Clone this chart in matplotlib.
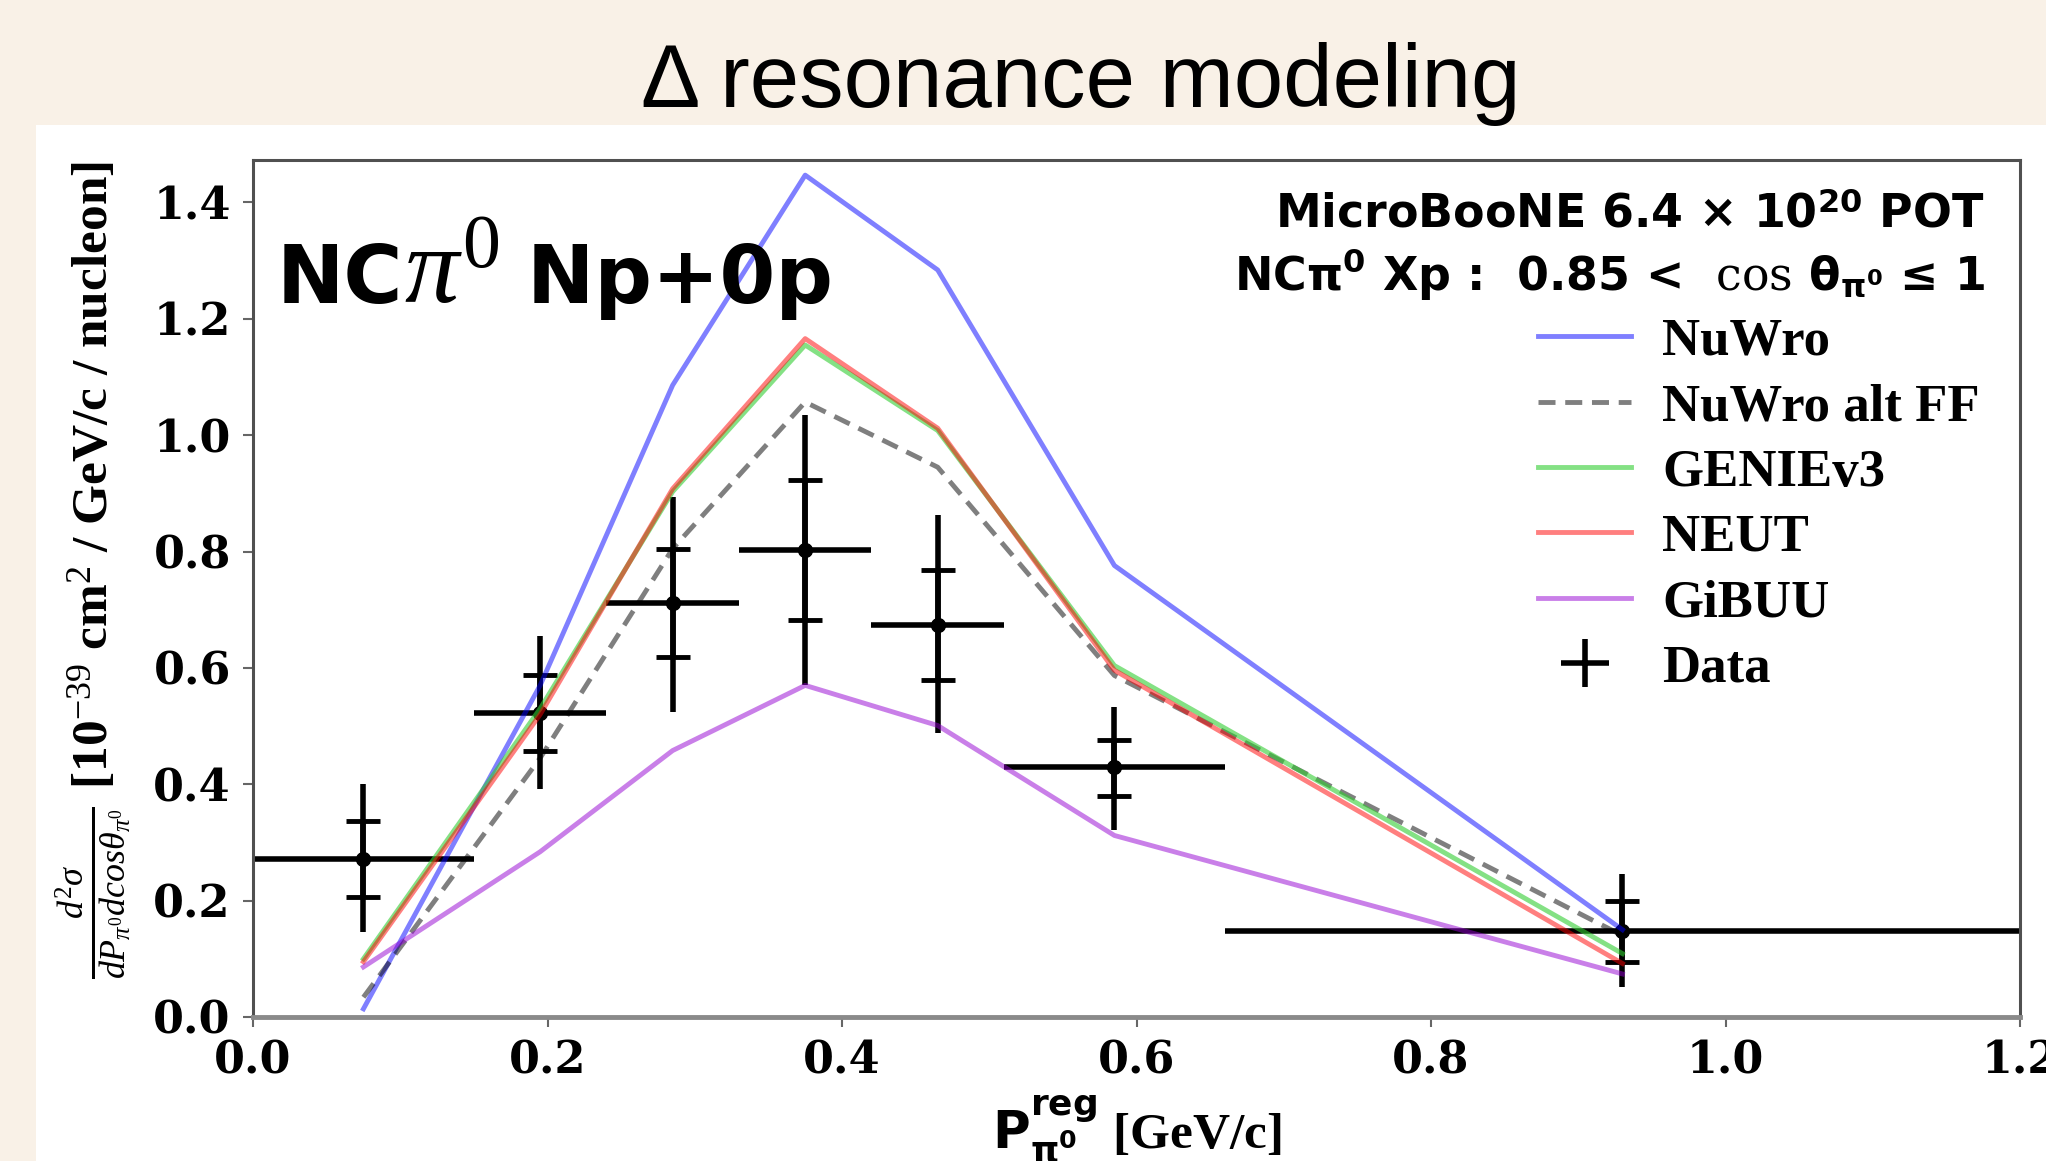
import matplotlib
matplotlib.use("Agg")
import matplotlib.pyplot as plt
from matplotlib.patches import Rectangle
from matplotlib.lines import Line2D
from matplotlib.offsetbox import TextArea, HPacker, AnchoredOffsetbox
import numpy as np

# ---------------- data ----------------
x_centers = np.array([0.075, 0.195, 0.285, 0.375, 0.465, 0.585, 0.93])
bin_lo = np.array([0.0, 0.15, 0.24, 0.33, 0.42, 0.51, 0.66])
bin_hi = np.array([0.15, 0.24, 0.33, 0.42, 0.51, 0.66, 1.2])

data_y = np.array([0.272, 0.523, 0.711, 0.802, 0.673, 0.429, 0.147])
tot_lo = np.array([0.146, 0.392, 0.524, 0.570, 0.488, 0.321, 0.051])
tot_hi = np.array([0.401, 0.654, 0.894, 1.034, 0.862, 0.532, 0.246])
stat_lo = np.array([0.207, 0.458, 0.618, 0.682, 0.579, 0.380, 0.094])
stat_hi = np.array([0.337, 0.587, 0.805, 0.923, 0.769, 0.476, 0.200])

nuwro = [0.014, 0.57, 1.086, 1.447, 1.284, 0.776, 0.150]
nuwro_alt = [0.034, 0.445, 0.805, 1.057, 0.945, 0.587, 0.140]
genie = [0.100, 0.530, 0.903, 1.155, 1.008, 0.604, 0.109]
neut = [0.095, 0.520, 0.908, 1.166, 1.012, 0.596, 0.092]
gibuu = [0.086, 0.284, 0.458, 0.570, 0.501, 0.312, 0.074]

x_ticks = [0.0, 0.2, 0.4, 0.6, 0.8, 1.0, 1.2]
y_ticks = [0.0, 0.2, 0.4, 0.6, 0.8, 1.0, 1.2, 1.4]

# ---------------- style ----------------
plt.rcParams['mathtext.fontset'] = 'custom'
plt.rcParams['mathtext.rm'] = 'Liberation Serif'
plt.rcParams['mathtext.it'] = 'Liberation Serif:italic'
plt.rcParams['mathtext.bf'] = 'DejaVu Sans:bold'
plt.rcParams['mathtext.sf'] = 'DejaVu Serif'

beige = '#f9f1e7'
W, H = 2046, 1161
fig = plt.figure(figsize=(W / 100, H / 100), dpi=100, facecolor=beige)

# white slide panel
fig.patches.append(Rectangle((36 / W, 0), 1.0, (H - 125) / H,
                             transform=fig.transFigure, facecolor='white',
                             edgecolor='none', zorder=-10))

fig.text(1081 / W, 1 - 107 / H, 'Δ resonance modeling', ha='center',
         va='baseline', fontsize=64, family='Liberation Sans')

ax = fig.add_axes([253 / W, 1 - 1017 / H, (2020 - 253) / W, (1017 - 160) / H])
ax.set_zorder(1)
ax.set_facecolor('white')

# data
ax.errorbar(x_centers, data_y,
            xerr=[x_centers - bin_lo, bin_hi - x_centers],
            yerr=[data_y - tot_lo, tot_hi - data_y],
            fmt='o', color='k', ms=10, elinewidth=4, capsize=0, zorder=2)
ax.errorbar(x_centers, data_y, yerr=[data_y - stat_lo, stat_hi - data_y],
            fmt='none', ecolor='k', elinewidth=4, capsize=12, capthick=3.5,
            zorder=2)

lw = 3.5
l1, = ax.plot(x_centers, nuwro, color='blue', alpha=0.5, lw=lw, zorder=3)
l2, = ax.plot(x_centers, nuwro_alt, color='black', alpha=0.5, lw=lw,
              dashes=(3.5, 2.0), zorder=3)
l3, = ax.plot(x_centers, genie, color='limegreen', alpha=0.6, lw=lw, zorder=3)
l4, = ax.plot(x_centers, neut, color='red', alpha=0.5, lw=lw, zorder=3)
l5, = ax.plot(x_centers, gibuu, color='darkviolet', alpha=0.5, lw=lw, zorder=3)
data_handle = Line2D([], [], color='k', marker='+', ls='none', ms=34, mew=4)

ax.set_xlim(0, 1.2)
ax.set_ylim(0, 1.473)
ax.set_xticks(x_ticks)
ax.set_yticks(y_ticks)
ax.set_xticklabels([f'{v:.1f}' for v in x_ticks])
ax.set_yticklabels([f'{v:.1f}' for v in y_ticks])
ax.tick_params(axis='both', direction='out', length=7, width=1.5,
               color='#666666', pad=9, labelsize=32)
for lab in ax.get_xticklabels() + ax.get_yticklabels():
    lab.set_family('DejaVu Serif')
    lab.set_fontweight('bold')
for s in ax.spines.values():
    s.set_color('#505050')
    s.set_linewidth(2.2)
ax.spines['bottom'].set_color('#8a8a8a')
ax.spines['bottom'].set_linewidth(3.5)

ax.set_xlabel(r'$\mathbf{P^{reg}_{\pi^0}}$ [GeV/c]', fontsize=37,
              family='Liberation Serif', fontweight='bold', labelpad=8)
ax.set_ylabel(r'$\frac{d^2\sigma}{dP_{\pi^0}dcos\theta_{\pi^0}}$ '
              r'[10$^{-39}$ cm$^2$ / GeV/c / nucleon]', fontsize=37,
              family='Liberation Serif', fontweight='bold')
ax.yaxis.set_label_coords(-0.068, 0.521)

# big channel label with enlarged pi^0
tp = dict(fontsize=58, family='DejaVu Sans', fontweight='bold')
box = HPacker(children=[TextArea('NC', textprops=tp),
                        TextArea(r'$\pi^0$', textprops=dict(fontsize=78)),
                        TextArea(' Np+0p', textprops=tp)],
              align='baseline', pad=0, sep=0)
anch = AnchoredOffsetbox(loc='lower left', child=box, frameon=False,
                         bbox_to_anchor=(0.0136, 0.806),
                         bbox_transform=ax.transAxes, pad=0, borderpad=0)
ax.add_artist(anch)

ax.text(0.980, 0.921, r'MicroBooNE 6.4 × 10$^{\mathbf{20}}$ POT',
        transform=ax.transAxes, fontsize=33, family='DejaVu Sans',
        fontweight='bold', ha='right', va='baseline')
ax.text(0.980, 0.848,
        r'NC$\mathbf{\pi^0}$ Xp :  0.85 <  $\mathsf{cos}$ $\mathbf{\theta_{\pi^0}}$ ≤ 1',
        transform=ax.transAxes, fontsize=33, family='DejaVu Sans',
        fontweight='bold', ha='right', va='baseline')

leg = ax.legend([l1, l2, l3, l4, l5, data_handle],
                ['NuWro', 'NuWro alt FF', 'GENIEv3', 'NEUT', 'GiBUU', 'Data'],
                loc='upper right', bbox_to_anchor=(0.9774, 0.816),
                frameon=False, borderpad=0, borderaxespad=0,
                handlelength=1.75, handletextpad=0.6, labelspacing=0.33,
                prop={'family': 'Liberation Serif', 'weight': 'bold',
                      'size': 38})

fig.savefig('out.png', dpi=100, facecolor=beige)
